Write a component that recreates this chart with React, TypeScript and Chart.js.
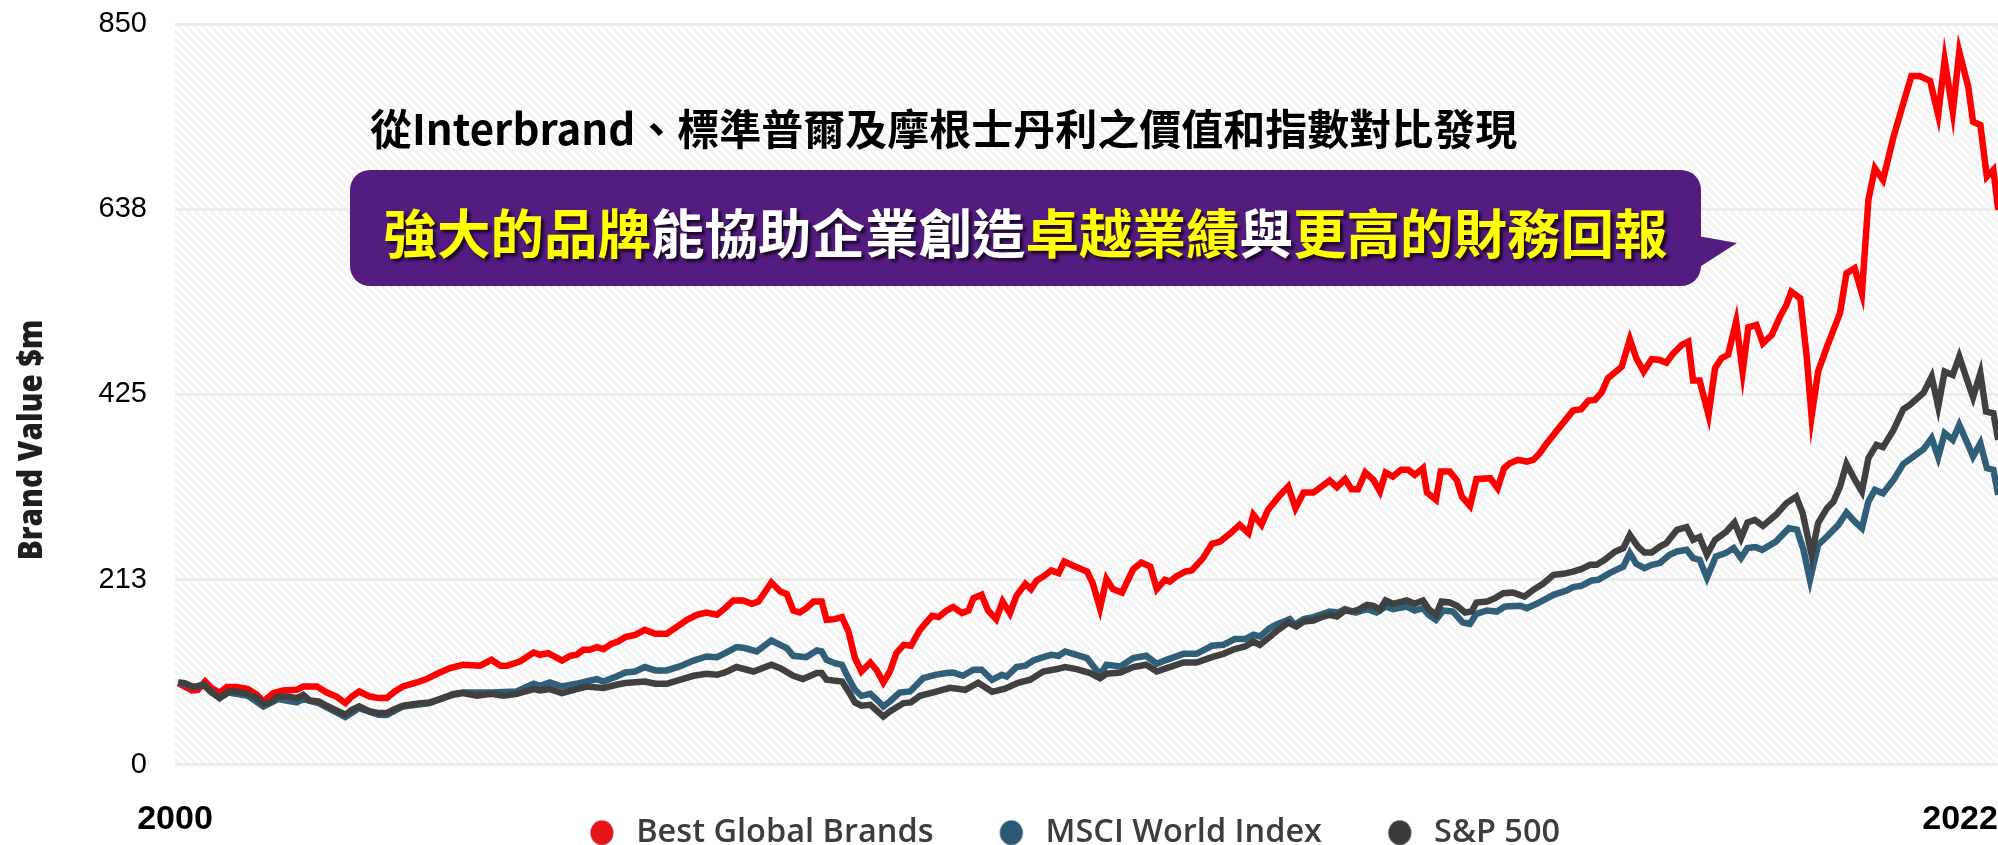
import React, { useEffect, useRef } from 'react';
import { Chart, registerables } from 'chart.js';
Chart.register(...registerables);

// ---------------- data ----------------
const seriesNames = ['Best Global Brands', 'MSCI World Index', 'S&P 500'];

const bgbYears = [
  2000.04, 2000.21, 2000.28, 2000.37, 2000.45, 2000.55, 2000.64, 2000.76, 2000.90, 2001.01,
  2001.09, 2001.21, 2001.33, 2001.50, 2001.58, 2001.75, 2001.87, 2001.99, 2002.10, 2002.18,
  2002.27, 2002.40, 2002.51, 2002.61, 2002.71, 2002.81, 2002.98, 2003.10, 2003.23, 2003.39,
  2003.55, 2003.76, 2003.90, 2004.01, 2004.09, 2004.25, 2004.42, 2004.50, 2004.60, 2004.77,
  2004.87, 2004.95, 2005.03, 2005.11, 2005.20, 2005.28, 2005.38, 2005.46, 2005.55, 2005.67,
  2005.79, 2005.92, 2006.06, 2006.18, 2006.31, 2006.43, 2006.55, 2006.68, 2006.78, 2006.88,
  2007.00, 2007.11, 2007.19, 2007.35, 2007.46, 2007.54, 2007.62, 2007.70, 2007.78, 2007.87,
  2007.97, 2008.03, 2008.13, 2008.22, 2008.30, 2008.38, 2008.46, 2008.57, 2008.65, 2008.73,
  2008.81, 2008.89, 2008.98, 2009.07, 2009.18, 2009.33, 2009.41, 2009.51, 2009.59, 2009.70,
  2009.78, 2009.84, 2009.94, 2010.02, 2010.12, 2010.20, 2010.29, 2010.37, 2010.48, 2010.55,
  2010.62, 2010.70, 2010.80, 2010.89, 2010.96, 2011.07, 2011.24, 2011.31, 2011.40, 2011.48,
  2011.56, 2011.67, 2011.81, 2011.91, 2012.02, 2012.10, 2012.20, 2012.26, 2012.34, 2012.45,
  2012.53, 2012.67, 2012.78, 2012.88, 2013.00, 2013.12, 2013.23, 2013.29, 2013.39, 2013.47,
  2013.62, 2013.72, 2013.81, 2013.91, 2014.03, 2014.13, 2014.23, 2014.32, 2014.42, 2014.50,
  2014.58, 2014.67, 2014.77, 2014.85, 2014.92, 2015.01, 2015.11, 2015.20, 2015.28, 2015.38,
  2015.43, 2015.54, 2015.60, 2015.71, 2015.80, 2015.86, 2015.96, 2016.04, 2016.21, 2016.30,
  2016.38, 2016.45, 2016.55, 2016.66, 2016.74, 2016.82, 2016.90, 2017.07, 2017.23, 2017.33,
  2017.42, 2017.50, 2017.58, 2017.66, 2017.83, 2017.93, 2018.01, 2018.10, 2018.20, 2018.30,
  2018.38, 2018.46, 2018.57, 2018.65, 2018.71, 2018.79, 2018.90, 2018.98, 2019.06, 2019.14,
  2019.24, 2019.32, 2019.39, 2019.49, 2019.57, 2019.68, 2019.78, 2019.86, 2019.92, 2020.03,
  2020.11, 2020.17, 2020.25, 2020.36, 2020.52, 2020.60, 2020.70, 2020.79, 2020.87, 2020.95,
  2021.05, 2021.18, 2021.30, 2021.40, 2021.50, 2021.63, 2021.73, 2021.81, 2021.91, 2021.99,
  2022.10, 2022.16, 2022.25, 2022.33, 2022.41, 2022.47,
];
const bgbValues = [
  93.7, 85.2, 86.0, 95.5, 88.0, 82.9, 89.1, 89.1, 86.8, 80.3,
  72.6, 82.2, 85.2, 86.0, 89.8, 89.8, 82.9, 78.3, 70.8, 78.3,
  84.1, 78.3, 76.5, 76.5, 84.1, 89.8, 94.4, 98.3, 104.4, 110.9,
  114.7, 113.6, 120.4, 113.6, 113.6, 118.5, 128.8, 126.2, 128.1, 119.6,
  125.0, 126.2, 131.9, 131.9, 135.0, 132.7, 138.8, 141.4, 146.5, 149.1,
  154.8, 150.3, 150.3, 157.9, 166.3, 172.1, 174.7, 172.1, 179.7, 188.5,
  188.5, 184.7, 187.3, 209.1, 198.8, 195.8, 177.0, 174.7, 179.7, 187.3,
  187.3, 166.3, 167.1, 169.4, 152.9, 122.4, 107.0, 117.3, 108.2, 94.4,
  107.0, 128.1, 137.6, 136.5, 154.8, 170.9, 169.4, 177.0, 180.9, 174.0,
  177.0, 191.2, 195.0, 177.0, 167.1, 187.3, 174.0, 193.8, 207.6, 201.5,
  211.4, 216.0, 222.9, 219.9, 233.2, 228.3, 221.7, 208.4, 179.7, 213.0,
  201.5, 197.6, 224.5, 232.0, 227.5, 201.5, 212.2, 210.2, 216.0, 221.7,
  222.9, 237.1, 253.5, 256.1, 265.0, 275.3, 265.8, 286.8, 275.3, 292.5,
  309.7, 319.2, 294.4, 312.3, 312.3, 319.2, 326.1, 318.5, 327.7, 316.2,
  316.2, 335.3, 326.9, 313.5, 335.3, 330.7, 338.4, 338.4, 332.6, 340.3,
  312.3, 304.0, 336.4, 336.4, 326.1, 307.7, 297.1, 327.7, 328.8, 317.4,
  340.3, 346.0, 349.8, 347.9, 349.8, 357.5, 368.2, 388.0, 406.4, 408.0,
  417.9, 418.7, 427.0, 443.5, 456.8, 488.3, 466.5, 451.1, 465.3, 464.5,
  461.4, 471.4, 481.7, 485.5, 440.8, 440.8, 401.5, 455.0, 466.5, 470.3,
  508.5, 451.1, 502.0, 504.7, 483.7, 493.2, 514.2, 527.6, 542.9, 535.3,
  468.3, 399.5, 451.1, 479.8, 518.1, 564.0, 569.7, 541.0, 648.1, 684.4,
  671.0, 720.7, 759.0, 790.3, 790.3, 784.9, 745.6, 808.6, 749.3, 818.2,
  778.0, 737.9, 734.1, 674.8, 682.5, 636.6,
];

const msciYears = [
  2000.04, 2000.23, 2000.35, 2000.55, 2000.66, 2000.90, 2001.09, 2001.27, 2001.50, 2001.58,
  2001.77, 2001.99, 2002.10, 2002.27, 2002.51, 2002.61, 2002.81, 2003.14, 2003.43, 2003.55,
  2003.90, 2004.21, 2004.42, 2004.50, 2004.62, 2004.77, 2004.95, 2005.07, 2005.20, 2005.28,
  2005.44, 2005.55, 2005.67, 2005.79, 2005.92, 2006.06, 2006.22, 2006.39, 2006.55, 2006.68,
  2006.78, 2006.92, 2007.02, 2007.17, 2007.35, 2007.54, 2007.62, 2007.78, 2007.91, 2007.97,
  2008.03, 2008.13, 2008.22, 2008.30, 2008.38, 2008.46, 2008.57, 2008.65, 2008.73, 2008.81,
  2008.93, 2009.06, 2009.22, 2009.37, 2009.51, 2009.59, 2009.71, 2009.84, 2009.94, 2010.07,
  2010.19, 2010.25, 2010.37, 2010.48, 2010.58, 2010.70, 2010.80, 2010.89, 2010.97, 2011.07,
  2011.24, 2011.40, 2011.48, 2011.65, 2011.81, 2011.97, 2012.10, 2012.22, 2012.43, 2012.59,
  2012.78, 2012.92, 2013.06, 2013.19, 2013.29, 2013.37, 2013.49, 2013.57, 2013.74, 2013.80,
  2013.91, 2014.03, 2014.23, 2014.34, 2014.42, 2014.55, 2014.69, 2014.81, 2014.92, 2015.01,
  2015.18, 2015.28, 2015.38, 2015.45, 2015.54, 2015.63, 2015.75, 2015.87, 2015.96, 2016.04,
  2016.17, 2016.29, 2016.39, 2016.58, 2016.66, 2016.78, 2016.99, 2017.15, 2017.23, 2017.33,
  2017.46, 2017.54, 2017.68, 2017.85, 2017.93, 2018.01, 2018.11, 2018.20, 2018.30, 2018.42,
  2018.51, 2018.63, 2018.71, 2018.79, 2018.88, 2018.99, 2019.11, 2019.21, 2019.30, 2019.38,
  2019.48, 2019.56, 2019.73, 2019.89, 2019.99, 2020.07, 2020.15, 2020.25, 2020.36, 2020.50,
  2020.60, 2020.70, 2020.79, 2020.87, 2020.95, 2021.05, 2021.18, 2021.30, 2021.40, 2021.55,
  2021.65, 2021.73, 2021.81, 2021.91, 2021.99, 2022.10, 2022.16, 2022.25, 2022.33, 2022.41,
  2022.47,
];
const msciValues = [
  94.4, 89.1, 91.8, 76.5, 82.9, 79.1, 66.9, 75.4, 71.5, 75.4,
  70.8, 60.0, 54.7, 65.0, 57.4, 57.0, 66.9, 70.8, 81.4, 82.9,
  82.9, 84.1, 92.9, 90.6, 94.4, 89.8, 92.9, 95.5, 98.3, 95.5,
  101.3, 105.9, 107.0, 112.1, 108.2, 108.2, 112.8, 119.6, 124.2, 123.5,
  128.1, 135.0, 133.9, 130.0, 142.6, 133.9, 125.0, 123.5, 131.1, 130.0,
  120.4, 116.6, 114.7, 99.4, 86.0, 79.1, 81.4, 74.6, 66.9, 72.6,
  82.9, 84.1, 99.4, 103.2, 105.2, 105.9, 102.1, 109.0, 109.0, 97.5,
  103.2, 101.3, 112.1, 113.6, 119.6, 123.5, 126.2, 125.0, 130.0, 127.3,
  122.4, 103.2, 114.7, 112.8, 122.4, 125.0, 115.8, 120.4, 127.3, 127.3,
  136.5, 137.6, 144.2, 144.2, 149.1, 147.2, 156.8, 160.6, 167.1, 160.6,
  167.1, 169.4, 175.8, 174.7, 178.6, 174.7, 178.6, 174.7, 181.6, 178.6,
  181.6, 177.0, 179.7, 172.1, 166.3, 177.0, 175.8, 163.2, 161.7, 173.2,
  177.0, 175.8, 181.6, 182.4, 179.7, 184.7, 195.0, 199.9, 203.8, 205.3,
  211.4, 212.2, 219.9, 227.5, 242.8, 230.5, 225.6, 229.4, 231.4, 240.9,
  244.7, 246.6, 237.1, 235.1, 214.5, 238.9, 242.8, 248.6, 237.1, 248.6,
  249.7, 246.6, 256.1, 271.5, 269.5, 246.6, 212.2, 252.3, 261.9, 275.3,
  289.4, 279.1, 271.5, 302.0, 315.4, 311.6, 326.9, 345.2, 351.8, 362.1,
  374.7, 352.9, 380.5, 372.8, 390.0, 367.0, 353.6, 369.0, 340.3, 338.4,
  309.7,
];

const spYears = [
  2000.04, 2000.12, 2000.23, 2000.35, 2000.45, 2000.55, 2000.66, 2000.76, 2000.90, 2001.01,
  2001.09, 2001.17, 2001.27, 2001.40, 2001.50, 2001.58, 2001.66, 2001.77, 2001.87, 2001.99,
  2002.10, 2002.18, 2002.27, 2002.40, 2002.51, 2002.61, 2002.69, 2002.81, 2002.98, 2003.14,
  2003.27, 2003.43, 2003.55, 2003.72, 2003.90, 2004.05, 2004.21, 2004.42, 2004.50, 2004.62,
  2004.77, 2004.95, 2005.07, 2005.28, 2005.44, 2005.55, 2005.79, 2005.92, 2006.06, 2006.22,
  2006.39, 2006.55, 2006.68, 2006.78, 2006.92, 2007.13, 2007.35, 2007.46, 2007.62, 2007.74,
  2007.91, 2007.97, 2008.03, 2008.22, 2008.30, 2008.38, 2008.46, 2008.57, 2008.73, 2008.81,
  2008.98, 2009.07, 2009.18, 2009.37, 2009.55, 2009.74, 2009.90, 2010.07, 2010.23, 2010.39,
  2010.54, 2010.70, 2010.87, 2010.97, 2011.11, 2011.28, 2011.40, 2011.48, 2011.65, 2011.81,
  2011.97, 2012.10, 2012.22, 2012.43, 2012.59, 2012.78, 2012.92, 2013.06, 2013.19, 2013.29,
  2013.37, 2013.49, 2013.57, 2013.72, 2013.82, 2013.91, 2014.03, 2014.15, 2014.23, 2014.32,
  2014.42, 2014.50, 2014.58, 2014.69, 2014.77, 2014.85, 2014.92, 2015.01, 2015.18, 2015.28,
  2015.38, 2015.45, 2015.54, 2015.61, 2015.71, 2015.80, 2015.90, 2015.98, 2016.04, 2016.17,
  2016.27, 2016.37, 2016.49, 2016.63, 2016.74, 2016.86, 2016.99, 2017.11, 2017.23, 2017.33,
  2017.44, 2017.52, 2017.62, 2017.75, 2017.85, 2017.93, 2018.03, 2018.11, 2018.20, 2018.30,
  2018.38, 2018.51, 2018.63, 2018.71, 2018.79, 2018.88, 2018.98, 2019.12, 2019.22, 2019.30,
  2019.38, 2019.47, 2019.57, 2019.73, 2019.86, 2019.98, 2020.06, 2020.17, 2020.25, 2020.36,
  2020.44, 2020.52, 2020.60, 2020.70, 2020.79, 2020.87, 2020.97, 2021.05, 2021.18, 2021.30,
  2021.38, 2021.55, 2021.65, 2021.73, 2021.81, 2021.91, 2021.99, 2022.10, 2022.16, 2022.25,
  2022.32, 2022.41, 2022.47,
];
const spValues = [
  94.4, 93.7, 89.1, 91.8, 82.9, 76.5, 84.1, 84.1, 81.4, 76.5,
  70.0, 71.5, 78.3, 78.3, 76.5, 80.3, 73.8, 72.6, 67.7, 62.3,
  57.4, 63.1, 66.9, 61.1, 59.3, 59.3, 63.1, 67.7, 70.0, 71.5,
  75.4, 80.3, 82.2, 79.1, 81.4, 79.1, 81.4, 86.8, 85.2, 86.8,
  82.2, 86.8, 89.8, 88.0, 91.8, 93.7, 95.5, 92.9, 92.9, 97.5,
  102.1, 104.4, 103.2, 105.9, 112.1, 107.0, 114.7, 110.9, 102.1, 98.3,
  105.2, 105.2, 97.5, 95.5, 84.1, 71.5, 67.7, 68.8, 55.4, 61.1,
  70.8, 71.5, 79.1, 83.7, 88.3, 86.0, 94.1, 83.7, 87.2, 94.1,
  97.5, 107.0, 109.8, 112.1, 109.8, 105.2, 99.4, 104.4, 105.9, 112.1,
  114.7, 107.0, 110.9, 117.3, 117.3, 123.5, 127.3, 132.7, 135.7, 141.4,
  137.6, 146.5, 152.9, 163.2, 158.6, 164.4, 165.5, 170.1, 172.1, 170.1,
  177.0, 175.8, 177.8, 183.5, 182.4, 177.8, 188.5, 184.7, 188.5, 184.7,
  188.5, 178.6, 172.1, 187.3, 186.2, 182.4, 174.7, 175.8, 186.2, 187.3,
  191.2, 196.9, 197.6, 193.0, 200.7, 207.6, 217.9, 219.1, 221.7, 224.5,
  229.4, 229.4, 235.1, 244.7, 248.6, 263.8, 250.4, 243.5, 243.5, 250.4,
  254.3, 269.5, 272.6, 258.1, 261.2, 240.9, 258.1, 267.6, 277.9, 260.0,
  277.9, 281.0, 274.1, 286.8, 300.2, 307.7, 288.7, 240.9, 277.2, 294.4,
  302.0, 319.2, 345.2, 327.7, 313.5, 351.8, 367.0, 364.4, 384.2, 408.0,
  412.9, 427.0, 445.4, 411.0, 451.1, 447.3, 468.3, 437.8, 421.7, 449.3,
  405.2, 403.4, 372.8,
];

const yTickValues = [0, 212.5, 425, 637.5, 850];
const xTickYears = [2000, 2022];
const yAxisTitle = 'Brand Value $m';
const headlineText = '從Interbrand、標準普爾及摩根士丹利之價值和指數對比發現';
const calloutSegments = ['強大的品牌', '能協助企業創造', '卓越業績', '與', '更高的財務回報'];
const calloutHighlighted = [true, false, true, false, true];

// ---------------- layout / style ----------------
const CANVAS_W = 2136;
const CANVAS_H = 859;
const PLOT_LEFT = 175;
const PX_PER_YEAR = 81.14;
const X_MAX = 2000 + (CANVAS_W - PLOT_LEFT) / PX_PER_YEAR;
const lineColors = ['#ff0000', '#305f7a', '#404040'];
const dotColors = ['#e3161b', '#2c5873', '#3b3b3b'];
const DOT_BOX = 44;
const DOT_CX = 26;

function makeDot(color: string) {
  const c = document.createElement('canvas');
  c.width = DOT_BOX;
  c.height = 26;
  const g = c.getContext('2d')!;
  g.fillStyle = color;
  g.beginPath();
  g.ellipse(DOT_CX, 13, 11.5, 12.5, 0, 0, Math.PI * 2);
  g.fill();
  return c;
}

const hatchPlugin = {
  id: 'hatchBg',
  beforeDraw(chart: any) {
    const { ctx, chartArea } = chart;
    if (!chartArea) return;
    const tile = document.createElement('canvas');
    tile.width = 8;
    tile.height = 8;
    const t = tile.getContext('2d')!;
    t.fillStyle = '#ffffff';
    t.fillRect(0, 0, 8, 8);
    t.strokeStyle = '#f2f2f2';
    t.lineWidth = 2.6;
    for (const k of [-8, 0, 8]) {
      t.beginPath();
      t.moveTo(-2, -2 + k);
      t.lineTo(10, 10 + k);
      t.stroke();
    }
    const pattern = ctx.createPattern(tile, 'repeat');
    ctx.save();
    ctx.fillStyle = pattern;
    ctx.fillRect(chartArea.left, chartArea.top, chartArea.right - chartArea.left, chartArea.bottom - chartArea.top);
    ctx.restore();
  },
};

const yTitlePlugin = {
  id: 'yTitle',
  afterDraw(chart: any) {
    const { ctx } = chart;
    ctx.save();
    ctx.translate(33, 440);
    ctx.rotate(-Math.PI / 2);
    ctx.scale(0.9, 1);
    ctx.font = '800 33px "Open Sans"';
    ctx.fillStyle = '#1e1e1e';
    ctx.textAlign = 'center';
    ctx.textBaseline = 'middle';
    ctx.fillText(yAxisTitle, 0, 0);
    ctx.restore();
  },
};

export default function App() {
  const canvasRef = useRef<HTMLCanvasElement | null>(null);

  useEffect(() => {
    if (!canvasRef.current) return;
    const dots = dotColors.map(makeDot);
    const seriesYears = [bgbYears, msciYears, spYears];
    const seriesValues = [bgbValues, msciValues, spValues];
    const datasets = seriesNames.map((name, i) => ({
      label: name,
      data: seriesYears[i].map((x, j) => ({ x, y: seriesValues[i][j] })),
      borderColor: lineColors[i],
      backgroundColor: lineColors[i],
      borderWidth: 6.5,
      pointRadius: 0,
      tension: 0,
      fill: false,
      borderJoinStyle: 'miter' as const,
      order: 3 - i,
    }));

    const chart = new Chart(canvasRef.current, {
      type: 'line',
      data: { datasets },
      plugins: [hatchPlugin, yTitlePlugin],
      options: {
        responsive: false,
        animation: false,
        events: [],
        layout: { padding: { top: 24, left: 0, right: 0, bottom: 0 } },
        plugins: {
          tooltip: { enabled: false },
          legend: {
            position: 'bottom',
            labels: {
              font: { family: '"Open Sans"', size: 32.5, weight: '600' },
              color: '#3d3d3d',
              usePointStyle: true,
              pointStyleWidth: DOT_BOX,
              padding: 51.75,
              generateLabels: (ch: any) => {
                const base = (Chart.defaults.plugins.legend.labels as any).generateLabels(ch);
                return base
                  .sort((a: any, b: any) => a.datasetIndex - b.datasetIndex)
                  .map((l: any) => ({ ...l, pointStyle: dots[l.datasetIndex], fontColor: '#3d3d3d' }));
              },
            },
          },
        },
        scales: {
          x: {
            type: 'linear',
            min: 2000,
            max: X_MAX,
            grid: { display: false },
            border: { display: false },
            afterBuildTicks: (axis: any) => {
              axis.ticks = xTickYears.map((v) => ({ value: v }));
            },
            afterFit: (axis: any) => {
              axis.height = 0;
              axis._computeLabelArea = () => undefined;
            },
            ticks: {
              autoSkip: false,
              maxRotation: 0,
              padding: 26,
              color: '#000',
              font: { family: '"Liberation Sans"', size: 34, weight: 'bold' },
              callback: (v: any) => String(v),
            },
          },
          y: {
            min: 0,
            max: 850,
            afterBuildTicks: (axis: any) => {
              axis.ticks = yTickValues.map((v) => ({ value: v }));
            },
            afterFit: (axis: any) => {
              axis.width = PLOT_LEFT;
              axis.paddingTop = 0;
              axis.paddingBottom = 0;
            },
            grid: { color: '#ececec', lineWidth: 3, drawTicks: false },
            border: { display: false },
            ticks: {
              padding: 28,
              color: '#000',
              font: { family: '"Liberation Sans"', size: 29 },
              callback: (v: any) => String(Math.round(Number(v))),
            },
          },
        },
      },
    } as any);
    return () => chart.destroy();
  }, []);

  return (
    <div style={{ position: 'fixed', left: 0, top: 0, width: 1998, height: 845, overflow: 'hidden', background: '#fff' }}>
      <div style={{ position: 'relative', width: CANVAS_W, height: CANVAS_H }}>
        <canvas ref={canvasRef} width={CANVAS_W} height={CANVAS_H} style={{ display: 'block' }} />
        <div
          style={{
            position: 'absolute',
            left: 370,
            top: 104,
            fontFamily: '"Noto Sans CJK TC", "Noto Sans CJK SC", sans-serif',
            fontWeight: 700,
            fontSize: 42,
            lineHeight: '46px',
            color: '#000',
            whiteSpace: 'nowrap',
          }}
        >
          {headlineText}
        </div>
        <svg
          width={CANVAS_W}
          height={CANVAS_H}
          style={{ position: 'absolute', left: 0, top: 0, pointerEvents: 'none' }}
        >
          <rect x={350} y={170} width={1351} height={116} rx={20} ry={20} fill="#541b80" />
          <polygon points="1698,236 1737,243 1698,268" fill="#541b80" />
        </svg>
        <div
          style={{
            position: 'absolute',
            left: 350,
            top: 170,
            width: 1351,
            height: 116,
            display: 'flex',
            alignItems: 'center',
            justifyContent: 'center',
            fontFamily: '"Noto Sans CJK TC", "Noto Sans CJK SC", sans-serif',
            fontWeight: 700,
            fontSize: 53.5,
            lineHeight: '60px',
            whiteSpace: 'nowrap',
            textShadow: '3px 3px 3px rgba(0,0,0,0.7)',
            paddingTop: 6,
            boxSizing: 'border-box',
          }}
        >
          {calloutSegments.map((s, i) => (
            <span key={i} style={{ color: calloutHighlighted[i] ? '#ffff00' : '#ffffff' }}>
              {s}
            </span>
          ))}
        </div>
      </div>
    </div>
  );
}
